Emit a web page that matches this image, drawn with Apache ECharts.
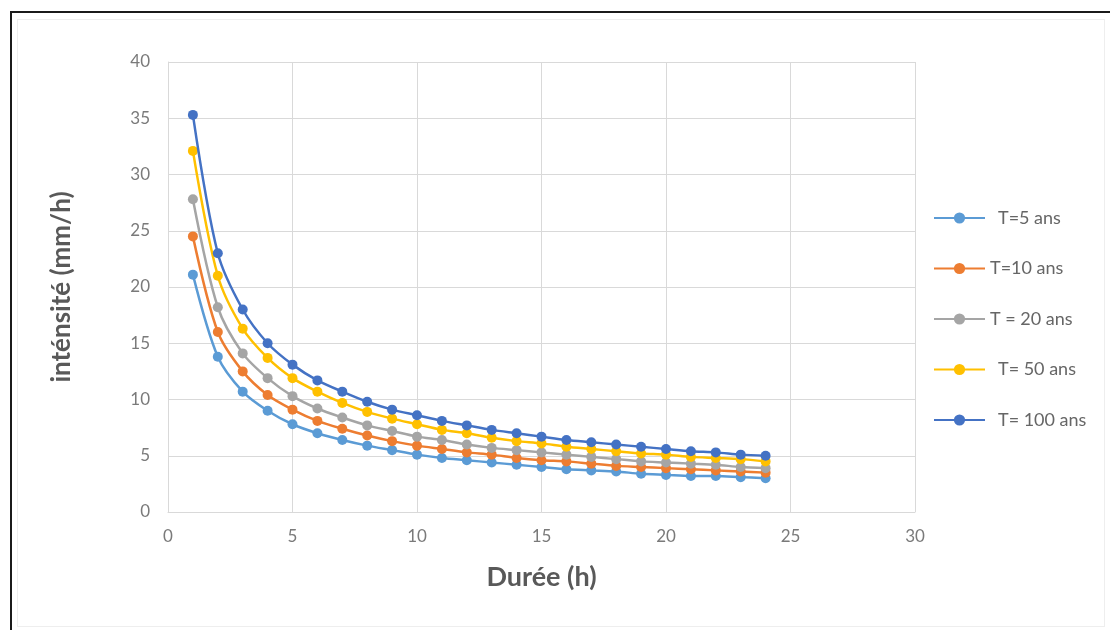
<!DOCTYPE html>
<html>
<head>
<meta charset="utf-8">
<script src="https://cdn.jsdelivr.net/npm/echarts@6/dist/echarts.min.js"></script>
<style>
  html, body { margin: 0; padding: 0; background: #ffffff; }
  #frame {
    position: absolute; left: 10px; top: 11px; width: 1110px; height: 640px;
    border-top: 2px solid #1a1a1a; border-left: 2px solid #1a1a1a;
  }
  #inner {
    position: absolute; left: 17px; top: 19px; width: 1086px; height: 606px;
    border: 1px solid #eeeeee;
  }
  #chart { position: absolute; left: 0; top: 0; width: 1110px; height: 630px; }
</style>
</head>
<body>
<div id="frame"></div>
<div id="inner"></div>
<div id="chart"></div>
<script>
// Intensity-duration curves: rainfall intensity (mm/h) versus duration (h)
const durations = [1, 2, 3, 4, 5, 6, 7, 8, 9, 10, 11, 12, 13, 14, 15, 16, 17, 18, 19, 20, 21, 22, 23, 24];

const seriesNames = ['T=5 ans', 'T=10 ans', 'T = 20 ans', 'T= 50 ans', 'T= 100 ans'];

const intensityT5 = [21.1, 13.8, 10.7, 9.0, 7.8, 7.0, 6.4, 5.9, 5.5, 5.1, 4.8, 4.6, 4.4, 4.2, 4.0, 3.8, 3.7, 3.6, 3.4, 3.3, 3.2, 3.2, 3.1, 3.0];
const intensityT10 = [24.5, 16.0, 12.5, 10.4, 9.1, 8.1, 7.4, 6.8, 6.3, 5.9, 5.6, 5.3, 5.1, 4.8, 4.6, 4.5, 4.3, 4.1, 4.0, 3.9, 3.8, 3.7, 3.6, 3.5];
const intensityT20 = [27.8, 18.2, 14.1, 11.9, 10.3, 9.2, 8.4, 7.7, 7.2, 6.7, 6.4, 6.0, 5.7, 5.5, 5.3, 5.1, 4.9, 4.7, 4.5, 4.4, 4.3, 4.2, 4.0, 3.9];
const intensityT50 = [32.1, 21.0, 16.3, 13.7, 11.9, 10.7, 9.7, 8.9, 8.3, 7.8, 7.3, 7.0, 6.6, 6.3, 6.1, 5.8, 5.6, 5.4, 5.2, 5.1, 4.9, 4.8, 4.7, 4.5];
const intensityT100 = [35.3, 23.0, 18.0, 15.0, 13.1, 11.7, 10.7, 9.8, 9.1, 8.6, 8.1, 7.7, 7.3, 7.0, 6.7, 6.4, 6.2, 6.0, 5.8, 5.6, 5.4, 5.3, 5.1, 5.0];

const xTicks = { min: 0, max: 30, interval: 5 };
const yTicks = { min: 0, max: 40, interval: 5 };

const allSeries = [intensityT5, intensityT10, intensityT20, intensityT50, intensityT100];
const colors = ['#5B9BD5', '#ED7D31', '#A5A5A5', '#FFC000', '#4472C4'];
// extra space between legend icon and label for some entries
const legendPad = [8, 0, 0, 8, 8];

const chart = echarts.init(document.getElementById('chart'), null, { renderer: 'canvas' });

const font = 'Lato, "Open Sans", sans-serif';
const gridColor = '#d9d9d9';
const tickColor = '#7a7a7a';
const titleColor = '#595959';

chart.setOption({
  backgroundColor: 'transparent',
  animation: false,
  color: colors,
  textStyle: { fontFamily: font },
  grid: { left: 168, right: 195, top: 62, bottom: 118, containLabel: false },
  legend: {
    orient: 'vertical',
    left: 928,
    top: 204,
    itemWidth: 51,
    itemHeight: 14,
    itemGap: 32.5,
    textStyle: { color: '#666666', fontSize: 18, fontFamily: font },
    data: seriesNames.map((n, i) => ({
      name: n,
      textStyle: { padding: [0, 0, 0, legendPad[i]] }
    }))
  },
  xAxis: {
    type: 'value',
    min: xTicks.min, max: xTicks.max, interval: xTicks.interval,
    name: 'Durée (h)',
    nameLocation: 'middle',
    nameGap: 52,
    nameTextStyle: { color: titleColor, fontSize: 27, fontWeight: 'bold', fontFamily: font },
    axisLine: { show: true, lineStyle: { color: gridColor, width: 1 } },
    axisTick: { show: false },
    axisLabel: { color: tickColor, fontSize: 17, margin: 16 },
    splitLine: { show: true, lineStyle: { color: gridColor, width: 1 } }
  },
  yAxis: {
    type: 'value',
    min: yTicks.min, max: yTicks.max, interval: yTicks.interval,
    name: 'inténsité (mm/h)',
    nameLocation: 'middle',
    nameGap: 93,
    nameRotate: 90,
    nameTextStyle: { color: titleColor, fontSize: 26, fontWeight: 'bold', fontFamily: font },
    axisLine: { show: true, lineStyle: { color: gridColor, width: 1 } },
    axisTick: { show: false },
    axisLabel: { color: tickColor, fontSize: 17, margin: 18 },
    splitLine: { show: true, lineStyle: { color: gridColor, width: 1 } }
  },
  series: allSeries.map((vals, i) => ({
    name: seriesNames[i],
    type: 'line',
    smooth: 0.3,
    symbol: 'circle',
    symbolSize: 10,
    lineStyle: { width: 2.5, color: colors[i] },
    itemStyle: { color: colors[i] },
    data: durations.map((d, k) => [d, vals[k]]),
    z: 2 + i
  }))
});
</script>
</body>
</html>
